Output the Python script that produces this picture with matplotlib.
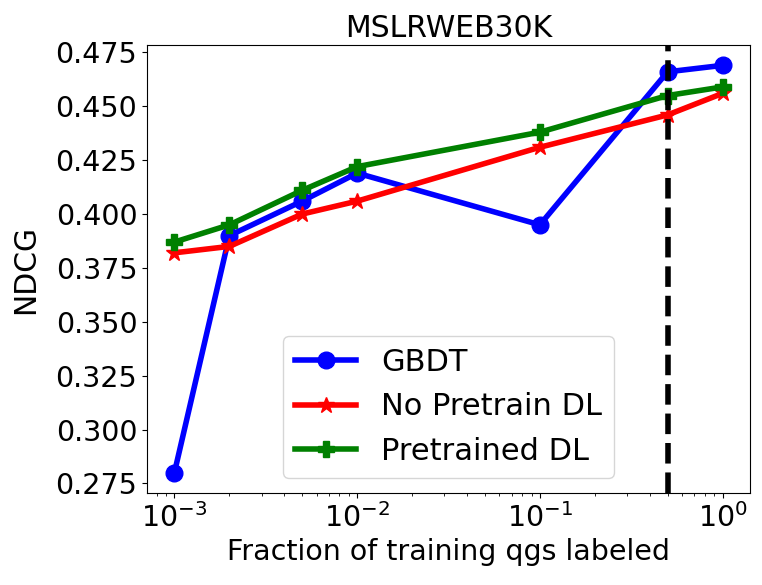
import matplotlib
matplotlib.use('Agg')
import matplotlib.pyplot as plt

fractions = [0.001, 0.002, 0.005, 0.01, 0.1, 0.5, 1.0]
gbdt = [0.280, 0.390, 0.406, 0.419, 0.395, 0.466, 0.469]
no_pretrain = [0.382, 0.385, 0.400, 0.406, 0.431, 0.446, 0.456]
pretrained = [0.387, 0.395, 0.411, 0.422, 0.438, 0.455, 0.459]
cutoff = 0.5

fig = plt.figure(figsize=(7.62, 5.85), dpi=100)
ax = fig.add_axes([147 / 762, 92 / 585, 603 / 762, 448 / 585])

ax.plot(fractions, gbdt, color='blue', marker='o', lw=4, ms=12, label='GBDT')
ax.plot(fractions, no_pretrain, color='red', marker='*', lw=4, ms=12, label='No Pretrain DL')
ax.plot(fractions, pretrained, color='green', marker='P', lw=4, ms=12, label='Pretrained DL')
ax.axvline(cutoff, color='black', ls='--', lw=4)

ax.set_xscale('log')
ax.set_yticks([0.275, 0.300, 0.325, 0.350, 0.375, 0.400, 0.425, 0.450, 0.475])
ax.tick_params(labelsize=20.5)
ax.set_xlabel('Fraction of training qgs labeled', fontsize=20.5)
ax.set_ylabel('NDCG', fontsize=21.5, labelpad=11)
ax.set_title('MSLRWEB30K', fontsize=21.5)
ax.legend(loc='lower center', fontsize=22)

fig.savefig('out.png', dpi=100)
